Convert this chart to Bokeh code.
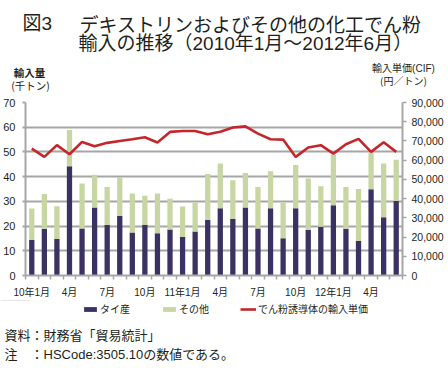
from bokeh.plotting import figure
from bokeh.layouts import column
from bokeh.models import (Range1d, LinearAxis, FixedTicker, NumeralTickFormatter,
                          Label, Legend, LegendItem, ColumnDataSource)
from bokeh.embed import file_html
from bokeh.resources import INLINE

months = ["10年1月", "2月", "3月", "4月", "5月", "6月", "7月", "8月", "9月", "10月", "11月", "12月",
          "11年1月", "2月", "3月", "4月", "5月", "6月", "7月", "8月", "9月", "10月", "11月", "12月",
          "12年1月", "2月", "3月", "4月", "5月", "6月"]
# thousand tonnes
tai = [14.4, 18.9, 14.8, 44.2, 19.0, 27.5, 20.4, 24.1, 17.4, 20.5, 17.1, 18.6, 15.6, 17.8, 22.5,
       27.2, 22.9, 27.5, 19.0, 27.2, 15.1, 27.2, 18.5, 19.7, 28.4, 18.9, 14.0, 34.9, 23.6, 30.1]
other = [12.7, 14.1, 13.2, 14.7, 18.2, 13.3, 15.4, 15.7, 15.8, 11.8, 16.1, 12.5, 12.3, 11.7, 18.6,
         18.1, 15.6, 14.0, 16.8, 15.0, 14.3, 17.5, 20.7, 16.4, 20.5, 16.9, 21.0, 14.8, 21.7, 16.7]
# yen / tonne
price = [66000, 61700, 67800, 63100, 69500, 67200, 69000, 70000, 70900, 71900, 69200, 74700, 75200,
         75200, 73500, 74800, 77000, 77600, 73800, 70900, 70700, 61700, 66600, 67800, 63400, 68300,
         71100, 64300, 69300, 64300]
left_ticks = [0, 10, 20, 30, 40, 50, 60, 70]
right_ticks = [0, 10000, 20000, 30000, 40000, 50000, 60000, 70000, 80000, 90000]

NAVY = "#3a3262"
GREEN = "#c7d6a3"
RED = "#c4262b"
GRAY = "#a6a6a6"
TXT = "#231f20"
JP = "'Noto Sans CJK JP'"
MIX = "'Liberation Sans', 'Noto Sans CJK JP'"

W = 448


def text_fig(h, y0):
    # frame covers the whole canvas: data coordinates equal page pixels (y flipped)
    f = figure(width=W, height=h, x_range=Range1d(0, W), y_range=Range1d(y0 + h, y0),
               x_axis_type=None, y_axis_type=None, output_backend="svg", toolbar_location=None,
               min_border=0, frame_align=False)
    f.outline_line_color = None
    return f


def lab(f, text, x, y, size, align="left", font=JP, style="normal"):
    f.add_layout(Label(x=x, y=y, text=text, text_font=font, text_font_size=size,
                       text_align=align, text_baseline="middle", text_color=TXT,
                       text_font_style=style))


# ---------- top: titles ----------
top = text_fig(95, 0)
lab(top, "図3", 22, 23, "19px", font=MIX)
lab(top, "デキストリンおよびその他の化工でん粉", 79, 23, "19px")
lab(top, "輸入の推移（2010年1月～2012年6月）", 78, 42.5, "19px", font=MIX)
lab(top, "輸入量", 29, 72, "10.5px", align="center", style="bold")
lab(top, "(千トン)", 30, 85, "10.5px", align="center")
lab(top, "輸入単価(CIF)", 403, 67.5, "10px", align="center", font=MIX)
lab(top, "(円／トン)", 403, 80, "10px", align="center")

# ---------- main chart ----------
xs = list(range(len(months)))
src = ColumnDataSource(dict(x=xs, tai=tai, other=other, price=price))

p = figure(width=W, height=205, x_range=Range1d(-0.5, len(months) - 0.5),
           y_range=Range1d(0, 70), output_backend="svg", toolbar_location=None,
           min_border_left=25, min_border_right=46, min_border_top=7, min_border_bottom=25,
           frame_align=False)
p.outline_line_color = None
p.extra_y_ranges = {"price": Range1d(0, 90000)}

bars = p.vbar_stack(["tai", "other"], x="x", width=0.42, source=src,
                    color=[NAVY, GREEN], line_color=None)
ln = p.line("x", "price", source=src, y_range_name="price", color=RED, line_width=2.6)

xa = p.xaxis[0]
tick_pos = xs[::3]
xa.ticker = FixedTicker(ticks=tick_pos, minor_ticks=[i - 0.5 for i in range(len(months) + 1)])
xa.major_label_overrides = {i: months[i] for i in tick_pos}
xa.major_tick_line_color = None
xa.major_tick_out = 0
xa.major_tick_in = 0
xa.minor_tick_line_color = GRAY
xa.minor_tick_line_width = 1.5
xa.minor_tick_out = 4
xa.minor_tick_in = 0
xa.axis_line_color = GRAY
xa.axis_line_width = 2
xa.major_label_standoff = 7
xa.major_label_text_font = MIX
xa.major_label_text_font_size = "10px"
xa.major_label_text_color = TXT

ya = p.yaxis[0]
ya.ticker = FixedTicker(ticks=left_ticks)
ya.axis_line_color = GRAY
ya.axis_line_width = 2
ya.major_tick_line_color = GRAY
ya.major_tick_line_width = 2
ya.major_tick_out = 3
ya.major_tick_in = 0
ya.minor_tick_line_color = None
ya.major_label_standoff = 7
ya.major_label_text_font = "Liberation Sans"
ya.major_label_text_font_size = "11px"
ya.major_label_text_color = TXT

ra = LinearAxis(y_range_name="price", ticker=FixedTicker(ticks=right_ticks),
                formatter=NumeralTickFormatter(format="0,0"))
ra.axis_line_color = GRAY
ra.axis_line_width = 2
ra.major_tick_line_color = GRAY
ra.major_tick_line_width = 1.5
ra.major_tick_out = 4
ra.major_tick_in = 0
ra.minor_tick_line_color = None
ra.major_label_standoff = 5
ra.major_label_text_font = "Liberation Sans"
ra.major_label_text_font_size = "10.5px"
ra.major_label_text_color = TXT
p.add_layout(ra, "right")

p.xgrid.visible = False
p.ygrid.grid_line_color = GRAY
p.ygrid.grid_line_width = 2

# ---------- bottom: legend + notes ----------
bot = text_fig(69, 300)
# legend keys: same series, falling outside this text panel's ranges (not visible here)
lg_tai = bot.vbar(x="x", top="tai", width=0.42, source=src, color=NAVY, line_color=None)
lg_oth = bot.vbar(x="x", top="other", width=0.42, source=src, color=GREEN, line_color=None)
lg_ln = bot.line(x="x", y="price", source=src, color=RED, line_width=2.6)
legend = Legend(items=[LegendItem(label="タイ産", renderers=[lg_tai]),
                       LegendItem(label="その他", renderers=[lg_oth]),
                       LegendItem(label="でん粉誘導体の輸入単価", renderers=[lg_ln])],
                orientation="horizontal", location=(82, 53), padding=0, margin=0,
                spacing=31, glyph_width=16, glyph_height=6, label_height=12,
                label_standoff=2, label_text_font=JP, label_text_font_size="10px",
                label_text_color=TXT, background_fill_alpha=0, border_line_color=None)
bot.add_layout(legend)
lab(bot, "資料：財務省「貿易統計」", 4, 333.5, "13px")
lab(bot, "注　：HSCode:3505.10の数値である。", 4, 353.5, "13px", font=MIX)

layout = column(top, p, bot, spacing=0)
open("out.html", "w").write(file_html(layout, INLINE))
